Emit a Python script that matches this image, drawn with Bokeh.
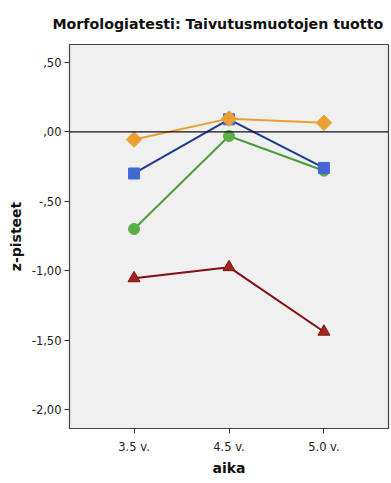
import math
from bokeh.plotting import figure
from bokeh.models import FixedTicker, Span, Range1d
from bokeh.embed import file_html
from bokeh.resources import INLINE

ages = ["3.5 v.", "4.5 v.", "5.0 v."]
x_pos = [1, 2, 3]
orange = [-0.055, 0.095, 0.065]
blue = [-0.30, 0.09, -0.26]
green = [-0.70, -0.03, -0.28]
red = [-1.055, -0.975, -1.44]
y_ticks = [0.5, 0.0, -0.5, -1.0, -1.5, -2.0]
y_labels = [",50", ",00", "-,50", "-1,00", "-1,50", "-2,00"]

p = figure(width=391, height=483, output_backend="svg", toolbar_location=None,
           x_range=Range1d(0.32, 3.68), y_range=Range1d(-2.137, 0.629),
           min_border_left=69, min_border_right=3, min_border_top=43, min_border_bottom=55,
           title="Morfologiatesti: Taivutusmuotojen tuotto")
p.title.align = "left"
p.title.text_font = "DejaVu Sans"
p.title.text_font_size = "14.2px"
p.title.text_font_style = "bold"
p.title.text_color = "#111111"
p.title.offset = -17
p.title.standoff = 26

p.background_fill_color = "#F0F0F0"
p.border_fill_color = "white"
p.outline_line_color = "#444444"
p.outline_line_width = 1.2
p.grid.visible = False

p.xaxis.ticker = FixedTicker(ticks=x_pos)
p.xaxis.major_label_overrides = {x: l for x, l in zip(x_pos, ages)}
p.yaxis.ticker = FixedTicker(ticks=y_ticks)
p.yaxis.major_label_overrides = {t: l for t, l in zip(y_ticks, y_labels)}
for ax in (p.xaxis, p.yaxis):
    ax.axis_line_color = None
    ax.major_tick_line_color = "#333333"
    ax.major_tick_out = 5
    ax.major_tick_in = 0
    ax.minor_tick_line_color = None
    ax.major_label_text_font = "DejaVu Sans"
    ax.major_label_text_font_size = "11.5px"
    ax.major_label_text_color = "#222222"
    ax.axis_label_text_font = "DejaVu Sans"
    ax.axis_label_text_font_size = "14px"
    ax.axis_label_text_font_style = "bold"
    ax.axis_label_text_color = "#111111"
p.xaxis.axis_label = "aika"
p.yaxis.axis_label = "z-pisteet"
p.xaxis.major_label_standoff = 6
p.xaxis.axis_label_standoff = 3
p.yaxis.major_label_standoff = 3
p.yaxis.axis_label_standoff = 5

p.add_layout(Span(location=0, dimension="width", line_color="#111111", line_width=1.2))

p.line(x_pos, red, line_color="#7E1010", line_width=2)
p.scatter(x_pos, red, marker="triangle", size=12, fill_color="#A3261B", line_color="#7E1010")
p.line(x_pos, green, line_color="#4E9A3E", line_width=2)
p.scatter(x_pos, green, marker="circle", size=11, fill_color="#5BAF48", line_color="#5BAF48")
p.line(x_pos, blue, line_color="#1E3A8A", line_width=2)
p.scatter(x_pos, blue, marker="square", size=11, fill_color="#4368D4", line_color="#4368D4")
p.line(x_pos, orange, line_color="#E9A030", line_width=2)
p.scatter(x_pos, orange, marker="square", angle=math.pi / 4, size=11,
          fill_color="#ECA034", line_color="#ECA034")

open("out.html", "w").write(file_html(p, INLINE))
